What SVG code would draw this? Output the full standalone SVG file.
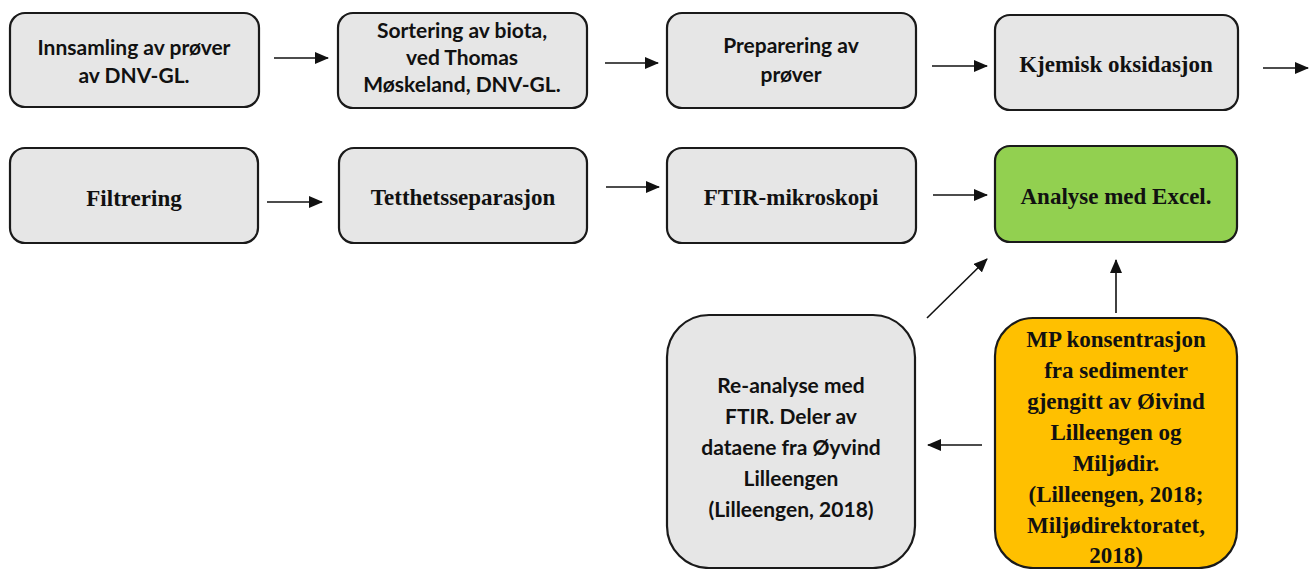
<svg xmlns="http://www.w3.org/2000/svg" width="1309" height="569" viewBox="0 0 1309 569">
<style>
.box{fill:#e6e6e6;stroke:#1a1a1a;stroke-width:2.2}
.green{fill:#92d050}
.orange{fill:#ffc000}
.cal{font-family:Lato,"Liberation Sans",sans-serif;font-weight:bold;font-size:21px;fill:#111;text-anchor:middle}
.tnr{font-family:"Liberation Serif",serif;font-weight:bold;font-size:23px;fill:#111;text-anchor:middle}
.arr{stroke:#111;stroke-width:1.6;fill:none;marker-end:url(#ah)}
</style>
<defs>
<marker id="ah" markerUnits="userSpaceOnUse" markerWidth="14" markerHeight="12" refX="13" refY="6" orient="auto">
<path d="M0,0 L14,6 L0,12 z" fill="#111"/>
</marker>
</defs>
<rect width="1309" height="569" fill="#fff"/>
<g id="connectors">
<line class="arr" x1="274" y1="58" x2="328" y2="58"/>
<line class="arr" x1="605" y1="63" x2="658" y2="63"/>
<line class="arr" x1="932" y1="66" x2="987" y2="66"/>
<line class="arr" x1="1263" y1="68" x2="1308" y2="68"/>
<line class="arr" x1="267" y1="202" x2="322" y2="202"/>
<line class="arr" x1="606" y1="187" x2="659" y2="187"/>
<line class="arr" x1="933" y1="195" x2="987" y2="195"/>
<line class="arr" x1="927" y1="318" x2="987" y2="259"/>
<line class="arr" x1="1116" y1="313" x2="1116" y2="260"/>
<line class="arr" x1="982" y1="445" x2="928" y2="445"/>
</g>
<g id="n1"><rect class="box" x="10" y="13" width="249" height="94" rx="15"/>
<text class="cal" x="134" y="55">Innsamling av prøver</text><text class="cal" x="134" y="83">av DNV-GL.</text></g>
<g id="n2"><rect class="box" x="338" y="13" width="249" height="95" rx="15"/>
<text class="cal" x="462" y="38">Sortering av biota,</text><text class="cal" x="462" y="65">ved Thomas</text><text class="cal" x="462" y="92">Møskeland, DNV-GL.</text></g>
<g id="n3"><rect class="box" x="667" y="13" width="249" height="95" rx="15"/>
<text class="cal" x="791" y="53">Preparering av</text><text class="cal" x="791" y="82">prøver</text></g>
<g id="n4"><rect class="box" x="995" y="15" width="243" height="95" rx="15"/>
<text class="tnr" x="1116" y="72">Kjemisk oksidasjon</text></g>
<g id="n5"><rect class="box" x="10" y="148" width="248" height="95" rx="15"/>
<text class="tnr" x="134" y="206">Filtrering</text></g>
<g id="n6"><rect class="box" x="339" y="148" width="248" height="95" rx="15"/>
<text class="tnr" x="463" y="205">Tetthetsseparasjon</text></g>
<g id="n7"><rect class="box" x="667" y="148" width="249" height="95" rx="15"/>
<text class="tnr" x="791" y="205">FTIR-mikroskopi</text></g>
<g id="n8"><rect class="box green" x="995" y="146" width="242" height="96" rx="15"/>
<text class="tnr" x="1116" y="204">Analyse med Excel.</text></g>
<g id="n9"><rect class="box" x="667" y="315" width="248" height="253" rx="42"/>
<text class="cal" x="791" y="393">Re-analyse med</text><text class="cal" x="791" y="424">FTIR. Deler av</text><text class="cal" x="791" y="455">dataene fra Øyvind</text><text class="cal" x="791" y="486">Lilleengen</text><text class="cal" x="791" y="517">(Lilleengen, 2018)</text></g>
<g id="n10"><rect class="box orange" x="995" y="318" width="242" height="250" rx="38"/>
<text class="tnr" x="1116" y="347">MP konsentrasjon</text><text class="tnr" x="1116" y="378">fra sedimenter</text><text class="tnr" x="1116" y="409">gjengitt av Øivind</text><text class="tnr" x="1116" y="440">Lilleengen og</text><text class="tnr" x="1116" y="471">Miljødir.</text><text class="tnr" x="1116" y="502">(Lilleengen, 2018;</text><text class="tnr" x="1116" y="533">Miljødirektoratet,</text><text class="tnr" x="1116" y="563">2018)</text></g>
</svg>
